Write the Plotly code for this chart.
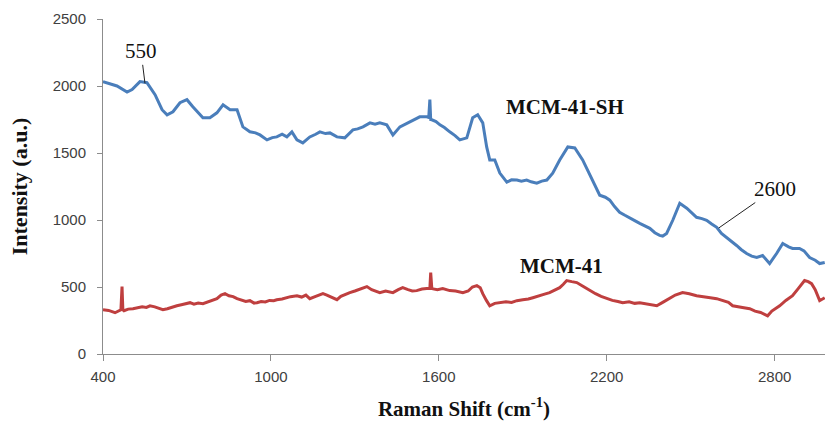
import plotly.graph_objects as go

# Raman shift (cm-1) and intensity (a.u.) for the thiol-functionalised sample
sh_shift = [400, 450, 486, 504, 532, 557, 586, 611, 629, 650, 675, 700, 721, 757,
            782, 807, 829, 854, 879, 900, 925, 945, 961, 986, 1005, 1021, 1040, 1057,
            1075, 1093, 1114, 1139, 1160, 1175, 1195, 1211, 1236, 1264, 1293, 1310,
            1329, 1354, 1372, 1389, 1414, 1436, 1461, 1480, 1496, 1515, 1532, 1557,
            1564, 1568, 1571, 1575, 1590, 1604, 1620, 1639, 1658, 1675, 1688, 1700,
            1721, 1739, 1757, 1771, 1782, 1800, 1818, 1843, 1860, 1879, 1895, 1914,
            1930, 1950, 1968, 1986, 2007, 2032, 2061, 2086, 2114, 2150, 2175, 2195,
            2211, 2228, 2246, 2265, 2282, 2300, 2318, 2335, 2354, 2372, 2389, 2400,
            2414, 2436, 2461, 2486, 2505, 2521, 2540, 2557, 2575, 2593, 2610, 2629,
            2645, 2664, 2680, 2700, 2718, 2736, 2757, 2782, 2807, 2829, 2850, 2864,
            2889, 2905, 2925, 2945, 2961, 2979]
sh_intensity = [2033, 2000, 1955, 1973, 2033, 2025, 1935, 1823, 1785, 1808, 1875, 1898,
                1845, 1763, 1763, 1800, 1860, 1823, 1823, 1695, 1658, 1650, 1635, 1598,
                1615, 1620, 1640, 1620, 1658, 1598, 1575, 1620, 1640, 1658, 1645, 1650,
                1620, 1613, 1673, 1680, 1695, 1725, 1715, 1725, 1710, 1635, 1695, 1715,
                1733, 1750, 1770, 1770, 1765, 1898, 1750, 1748, 1735, 1710, 1690, 1658,
                1630, 1598, 1605, 1613, 1763, 1785, 1725, 1545, 1448, 1448, 1350, 1283,
                1300, 1298, 1290, 1298, 1285, 1275, 1290, 1298, 1350, 1448, 1545, 1538,
                1448, 1298, 1185, 1170, 1148, 1100, 1058, 1035, 1013, 995, 975, 960, 938,
                905, 885, 880, 900, 998, 1125, 1088, 1050, 1020, 1010, 998, 970, 945,
                900, 870, 840, 810, 780, 750, 730, 720, 735, 675, 750, 825, 800, 788,
                788, 770, 720, 700, 675, 683]

# Raman shift (cm-1) and intensity (a.u.) for the parent material
mcm_shift = [400, 420, 443, 461, 464, 468, 471, 475, 490, 507, 525, 540, 555, 568,
             585, 600, 614, 630, 648, 664, 680, 695, 711, 725, 740, 757, 775, 790,
             807, 822, 836, 850, 865, 879, 895, 910, 925, 940, 950, 965, 980, 995,
             1010, 1021, 1040, 1055, 1070, 1093, 1110, 1125, 1139, 1160, 1186, 1200,
             1215, 1236, 1250, 1265, 1282, 1300, 1320, 1343, 1360, 1375, 1389, 1410,
             1436, 1455, 1471, 1490, 1505, 1521, 1540, 1557, 1568, 1571, 1575, 1595,
             1614, 1639, 1660, 1686, 1705, 1720, 1736, 1748, 1757, 1770, 1782, 1800,
             1818, 1840, 1860, 1879, 1900, 1920, 1936, 1955, 1975, 1996, 2015, 2032,
             2045, 2057, 2075, 2093, 2115, 2139, 2160, 2180, 2200, 2220, 2240, 2257,
             2280, 2300, 2318, 2340, 2360, 2379, 2400, 2425, 2445, 2471, 2495, 2521,
             2545, 2570, 2593, 2615, 2635, 2650, 2670, 2690, 2711, 2730, 2750, 2775,
             2790, 2818, 2840, 2864, 2885, 2907, 2920, 2932, 2945, 2961, 2979]
mcm_intensity = [330, 325, 308, 323, 330, 503, 330, 323, 335, 338, 345, 352, 348, 360,
                 352, 340, 330, 338, 352, 360, 368, 375, 383, 372, 380, 375, 390, 400,
                 413, 440, 450, 435, 428, 413, 405, 392, 398, 380, 383, 392, 388, 400,
                 398, 405, 410, 420, 428, 435, 425, 440, 413, 430, 450, 440, 425, 405,
                 430, 445, 458, 470, 485, 503, 480, 470, 458, 470, 458, 480, 495, 480,
                 470, 473, 485, 488, 488, 608, 488, 480, 488, 473, 470, 458, 470, 500,
                 510, 495, 450, 400, 360, 378, 383, 390, 385, 398, 405, 410, 420, 430,
                 445, 458, 475, 495, 520, 548, 540, 533, 505, 473, 450, 430, 413, 400,
                 392, 383, 390, 378, 383, 375, 365, 360, 385, 413, 440, 458, 450, 435,
                 430, 420, 413, 400, 385, 360, 355, 345, 338, 320, 310, 285, 320, 360,
                 400, 435, 490, 548, 540, 525, 480, 398, 420]

x_ticks = [400, 1000, 1600, 2200, 2800]
y_ticks = [0, 500, 1000, 1500, 2000, 2500]

serif = "Liberation Serif, Times New Roman, serif"
axis_grey = "#8c8c8c"

fig = go.Figure()
fig.add_trace(go.Scatter(x=sh_shift, y=sh_intensity, mode="lines",
                         line=dict(color="#4a7ebb", width=3), name="MCM-41-SH"))
fig.add_trace(go.Scatter(x=mcm_shift, y=mcm_intensity, mode="lines",
                         line=dict(color="#bf3f3f", width=3), name="MCM-41"))

# series labels
fig.add_annotation(x=2050, y=1843, text="<b>MCM-41-SH</b>", showarrow=False,
                   font=dict(family=serif, size=21, color="#111111"))
fig.add_annotation(x=2039, y=660, text="<b>MCM-41</b>", showarrow=False,
                   font=dict(family=serif, size=21, color="#111111"))

# peak call-outs
fig.add_annotation(x=550, y=2020, text="550", showarrow=True, arrowhead=0,
                   arrowwidth=1, arrowcolor="#222222", ax=-4, ay=-32, standoff=0,
                   font=dict(family=serif, size=21, color="#111111"))
fig.add_annotation(x=2600, y=940, text="2600", showarrow=True, arrowhead=0,
                   arrowwidth=1, arrowcolor="#222222", ax=56, ay=-39, standoff=0,
                   font=dict(family=serif, size=21, color="#111111"))

fig.update_layout(
    width=825, height=422,
    margin=dict(l=103, r=0, t=19, b=68),
    paper_bgcolor="white", plot_bgcolor="white",
    showlegend=False,
    font=dict(family="Liberation Sans, Arial, sans-serif", size=15, color="#404040"),
)
fig.update_xaxes(
    range=[400, 2980], tickvals=x_ticks, ticktext=[str(v) for v in x_ticks],
    showgrid=False, zeroline=False, showline=True, linecolor=axis_grey, linewidth=1,
    ticks="outside", ticklen=6, tickcolor=axis_grey, ticklabelstandoff=3,
    title=dict(text="<b>Raman Shift (cm<sup>-1</sup>)</b>",
               font=dict(family=serif, size=21, color="#111111"), standoff=17),
)
fig.update_yaxes(
    range=[0, 2500], tickvals=y_ticks, ticktext=[str(v) for v in y_ticks],
    showgrid=False, zeroline=False, showline=True, linecolor=axis_grey, linewidth=1,
    ticks="outside", ticklen=5, tickcolor=axis_grey, ticklabelstandoff=8,
    title=dict(text="<b>Intensity (a.u.)</b>",
               font=dict(family=serif, size=22, color="#111111"), standoff=18),
)

fig.write_html("out.html")
